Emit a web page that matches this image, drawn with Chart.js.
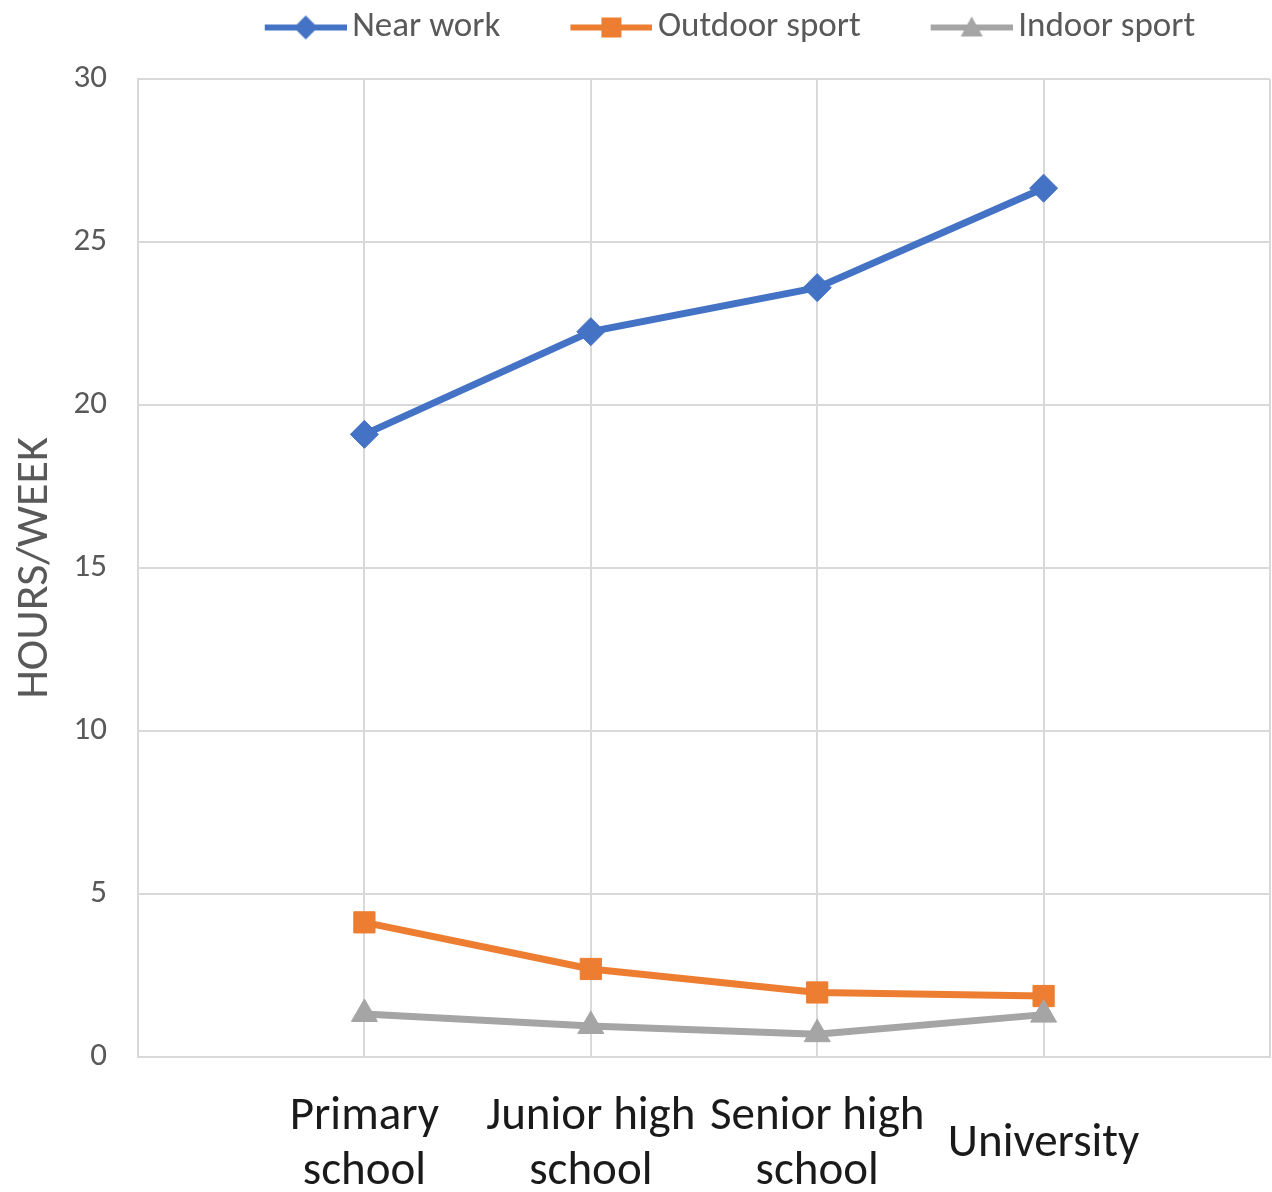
<!DOCTYPE html>
<html>
<head>
<meta charset="utf-8">
<script src="https://cdn.jsdelivr.net/npm/chart.js@4/dist/chart.umd.min.js"></script>
<style>
  html, body { margin: 0; padding: 0; background: #ffffff; overflow: hidden; }
  #wrap { width: 1272px; height: 1192px; }
</style>
</head>
<body>
<div id="wrap"><canvas id="chart"></canvas></div>
<script>
// School stages along the horizontal axis
const categories = [
  ['Primary', 'school'],
  ['Junior high', 'school'],
  ['Senior high', 'school'],
  'University'
];

// Weekly hours per activity at each stage
const nearWork = [19.1, 22.25, 23.6, 26.65];
const outdoorSport = [4.13, 2.7, 1.98, 1.87];
const indoorSport = [1.32, 0.95, 0.7, 1.3];

const yTicks = [0, 5, 10, 15, 20, 25, 30];

const seriesNames = ['Near work', 'Outdoor sport', 'Indoor sport'];
const seriesColors = ['#4472C4', '#ED7D31', '#A5A5A5'];
const seriesMarkers = ['rectRot', 'rect', 'triangle'];

const FONT = 'Carlito, Calibri, Lato, "Open Sans", sans-serif';
const GRID = '#D9D9D9';

// x positions 1..4 sit on a 0..5 axis so the plot has a half-step of room on both sides
const toPoints = (vals) => vals.map((v, i) => ({ x: i + 1, y: v }));

// Legend swatch: a short line with the series marker in its middle
const LEGEND_BOX = 130;
function legendSwatch(color, marker) {
  const c = document.createElement('canvas');
  const w = LEGEND_BOX + 24, h = 30;
  c.width = w; c.height = h;
  const ctx = c.getContext('2d');
  const x1 = w, x0 = w - 82, cy = h / 2, cx = (x0 + x1) / 2;
  ctx.strokeStyle = color; ctx.lineWidth = 6; ctx.lineCap = 'butt';
  ctx.beginPath(); ctx.moveTo(x0, cy); ctx.lineTo(x1, cy); ctx.stroke();
  ctx.fillStyle = color;
  ctx.beginPath();
  if (marker === 'rectRot') {
    ctx.moveTo(cx, cy - 12); ctx.lineTo(cx + 12, cy); ctx.lineTo(cx, cy + 12); ctx.lineTo(cx - 12, cy);
  } else if (marker === 'rect') {
    ctx.rect(cx - 10, cy - 10, 20, 20);
  } else {
    ctx.moveTo(cx, cy - 11); ctx.lineTo(cx + 11, cy + 9); ctx.lineTo(cx - 11, cy + 9);
  }
  ctx.closePath(); ctx.fill();
  return c;
}
const swatches = seriesColors.map((c, i) => legendSwatch(c, seriesMarkers[i]));

function makeDataset(i, values, radius, drawOrder) {
  return {
    label: seriesNames[i],
    data: toPoints(values),
    borderColor: seriesColors[i],
    backgroundColor: seriesColors[i],
    pointBackgroundColor: seriesColors[i],
    pointBorderColor: seriesColors[i],
    pointStyle: seriesMarkers[i],
    pointRadius: radius,
    pointHoverRadius: radius,
    pointBorderWidth: 1,
    borderWidth: 7,
    tension: 0,
    order: drawOrder
  };
}

// Gives the legend block extra room beneath it and nudges it to the right
const legendSpacer = {
  id: 'legendSpacer',
  beforeInit(chart) {
    const fit = chart.legend.fit;
    chart.legend.fit = function () {
      fit.bind(chart.legend)();
      this.height += 24;
    };
  },
  afterLayout(chart) {
    chart.legend.left += 130;
  }
};

new Chart(document.getElementById('chart'), {
  type: 'line',
  data: {
    datasets: [
      makeDataset(0, nearWork, 14, 3),
      makeDataset(1, outdoorSport, 15, 2),
      makeDataset(2, indoorSport, 15, 1)
    ]
  },
  options: {
    responsive: true,
    maintainAspectRatio: false,
    animation: false,
    devicePixelRatio: 1,
    layout: { autoPadding: false, padding: { top: 0, right: 2, bottom: 0, left: 0 } },
    plugins: {
      tooltip: { enabled: false },
      legend: {
        position: 'top',
        align: 'center',
        labels: {
          usePointStyle: true,
          pointStyleWidth: LEGEND_BOX,
          padding: 10,
          color: '#595959',
          font: { family: FONT, size: 35 },
          generateLabels(chart) {
            return chart.data.datasets.map((ds, i) => ({
              text: ds.label,
              pointStyle: swatches[i],
              fillStyle: ds.borderColor,
              strokeStyle: ds.borderColor,
              lineWidth: 0,
              fontColor: '#595959',
              hidden: false,
              datasetIndex: i
            }));
          }
        }
      }
    },
    scales: {
      x: {
        type: 'linear',
        min: 0,
        max: 5,
        afterFit(scale) {
          scale.height = 135;
          scale.paddingLeft = 0;
          scale.paddingRight = 0;
        },
        afterBuildTicks(scale) {
          scale.ticks = [0, 1, 2, 3, 4, 5].map(v => ({ value: v }));
        },
        ticks: {
          autoSkip: false,
          maxRotation: 0,
          padding: 60,
          crossAlign: 'center',
          color: '#1a1a1a',
          font: { family: FONT, size: 47, lineHeight: 1.17 },
          callback: (v) => (v >= 1 && v <= categories.length ? categories[v - 1] : '')
        },
        grid: { color: GRID, lineWidth: 2, drawTicks: false },
        border: { display: true, color: GRID, width: 2 }
      },
      y: {
        min: 0,
        max: 30,
        afterFit(scale) { scale.width = 138; },
        afterBuildTicks(scale) {
          scale.ticks = yTicks.map(v => ({ value: v }));
        },
        ticks: {
          padding: 31,
          color: '#595959',
          font: { family: FONT, size: 33 }
        },
        title: {
          display: true,
          text: 'HOURS/WEEK',
          color: '#595959',
          font: { family: FONT, size: 46 },
          padding: { top: 8, bottom: 0 }
        },
        grid: { color: GRID, lineWidth: 2, drawTicks: false },
        border: { display: true, color: GRID, width: 2 }
      }
    }
  },
  plugins: [legendSpacer]
});
</script>
</body>
</html>
